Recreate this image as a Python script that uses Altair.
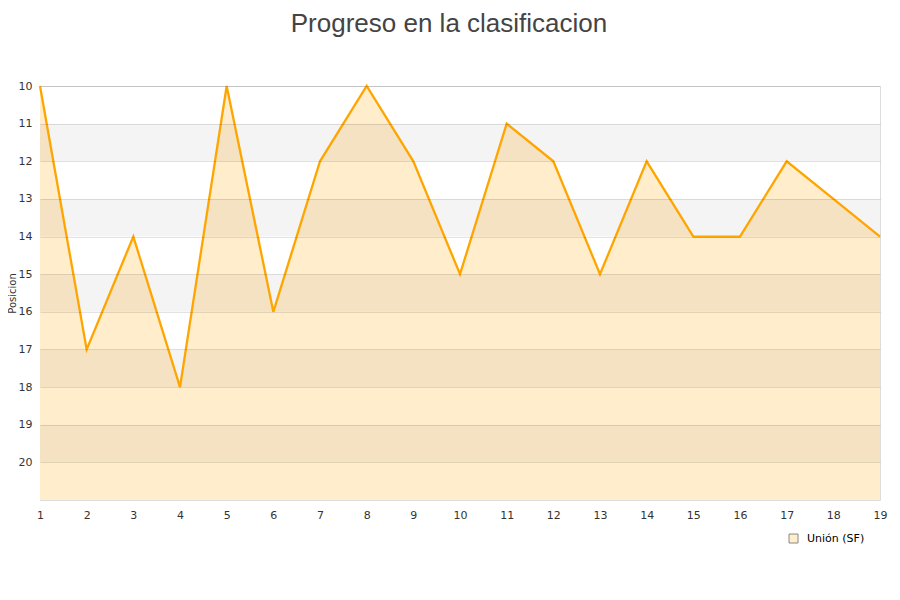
import altair as alt
import pandas as pd

jornadas = list(range(1, 20))
posiciones = [10, 17, 14, 18, 10, 16, 12, 10, 12, 15, 11, 12, 15, 12, 14, 14, 12, 13, 14]
equipo = "Unión (SF)"
band_start = [11, 13, 15, 17, 19]
band_end = [12, 14, 16, 18, 20]

df = pd.DataFrame({"jornada": jornadas, "pos": posiciones, "base": [21] * len(jornadas),
                   "equipo": [equipo] * len(jornadas)})
bands = pd.DataFrame({"y1": band_start, "y2": band_end})

yscale = alt.Scale(domain=[10, 21], reverse=True, nice=False, zero=False)
xscale = alt.Scale(domain=[1, 19], nice=False, zero=False)

area = alt.Chart(df).mark_area().encode(
    x=alt.X("jornada:Q", scale=xscale,
            axis=alt.Axis(values=jornadas, title=None, grid=False, ticks=False, domain=False,
                          labelColor="#333", labelFontSize=11, labelFont="DejaVu Sans",
                          labelPadding=9, labelFlush=False)),
    y=alt.Y("pos:Q", scale=yscale,
            axis=alt.Axis(values=list(range(10, 21)), title="Posicion", grid=True, gridColor="#000000",
                          gridOpacity=0.11, zindex=1,
                          ticks=False, domain=False, labelColor="#333", labelFontSize=11,
                          labelFont="DejaVu Sans", labelPadding=8, titleFontSize=10,
                          titleFont="DejaVu Sans", titleFontWeight="normal", titleColor="#333",
                          titlePadding=1)),
    y2="base:Q",
    fill=alt.Fill("equipo:N", scale=alt.Scale(range=["#ffedcc"]),
                  legend=alt.Legend(title=None, orient="none", legendX=748, legendY=447,
                                    symbolType="square", symbolSize=81, symbolStrokeColor="#888",
                                    symbolStrokeWidth=1, labelFontSize=11, labelFont="DejaVu Sans",
                                    labelColor="#000", labelOffset=8)),
)

band_layer = alt.Chart(bands).mark_rect(color="#000000", opacity=0.042).encode(
    y=alt.Y("y1:Q", scale=yscale),
    y2="y2:Q",
)

line = alt.Chart(df).mark_line(color="#ffa500", strokeWidth=2.3).encode(
    x=alt.X("jornada:Q", scale=xscale),
    y=alt.Y("pos:Q", scale=yscale),
)

chart = alt.layer(area, band_layer, line).properties(
    width=840, height=414,
    title=alt.TitleParams("Progreso en la clasificacion", fontSize=26, font="Liberation Sans",
                          fontWeight="normal", color="#444", anchor="middle", frame="group",
                          offset=43, dx=-11),
    padding={"left": 32, "top": 78, "right": 12, "bottom": 50},
    autosize=alt.AutoSizeParams(type="none"),
).configure_view(stroke="#dddddd")

chart.save("out.html", embed_options={"renderer": "svg", "actions": False})
